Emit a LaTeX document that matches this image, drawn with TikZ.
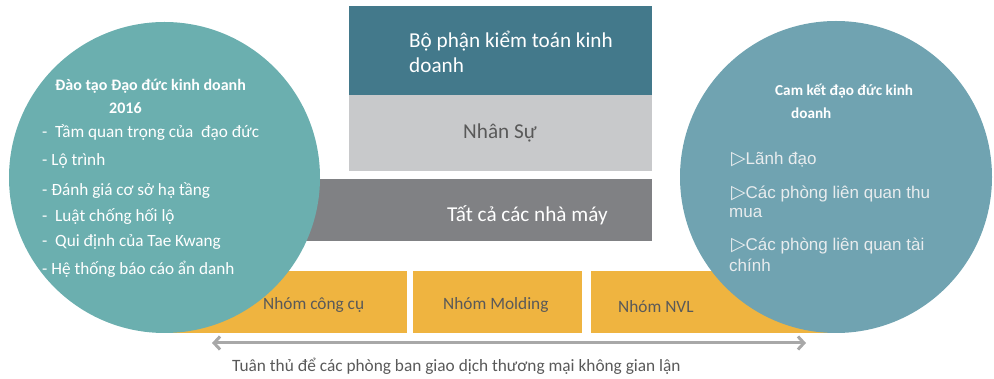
\documentclass[tikz,border=0pt]{standalone}
\usepackage{fontspec}
\setmainfont{Carlito}
\newfontfamily\arialf{Liberation Sans}
\newfontfamily\dejavu{DejaVu Sans}
\usetikzlibrary{arrows.meta}
\definecolor{topteal}{RGB}{67,121,139}
\definecolor{lightgr}{RGB}{200,201,203}
\definecolor{darkgr}{RGB}{128,129,132}
\definecolor{orng}{RGB}{239,180,64}
\definecolor{lcirc}{RGB}{107,175,175}
\definecolor{rcirc}{RGB}{112,163,177}
\definecolor{txtgr}{RGB}{89,89,89}
\definecolor{arrgr}{RGB}{168,168,168}
\definecolor{rtxt}{RGB}{232,236,238}
\newcommand{\tri}{\makebox[14.5pt][l]{\dejavu\fontsize{19}{20}\selectfont ▷}}
\tikzset{
  box/.style={rectangle, inner sep=0pt, draw=none},
  circ/.style={circle, inner sep=0pt, draw=none},
  lbl/.style={inner sep=0pt, anchor=base west},
  big/.style={font=\fontsize{21.2}{25}\selectfont},
  mid/.style={font=\fontsize{17.3}{20}\selectfont},
  ltitle/.style={font=\fontsize{16}{19}\selectfont\bfseries, text=white},
  rtitle/.style={font=\fontsize{15.2}{18}\selectfont\bfseries, text=white},
  litem/.style={font=\fontsize{17.2}{20}\selectfont, text=white},
  ritem/.style={font=\fontsize{17}{20}\selectfont\arialf, text=rtxt},
  arrstyle/.style={draw=arrgr, line width=3pt, {Straight Barb[length=6pt,width=13pt]}-{Straight Barb[length=6pt,width=13pt]}}
}
\begin{document}
\begin{tikzpicture}[x=1pt,y=-1pt]
\useasboundingbox (0,0) rectangle (994,379);
% boxes
\node[box, fill=topteal, minimum width=303pt, minimum height=89pt] (audit) at (500.5,50.5) {};
\node[box, fill=lightgr, minimum width=303pt, minimum height=76pt] (hr) at (500.5,133) {};
\node[box, fill=darkgr, minimum width=362pt, minimum height=62pt] (plants) at (471,210) {};
\node[box, fill=orng, minimum width=237pt, minimum height=62pt] (tools) at (288.5,302) {};
\node[box, fill=orng, minimum width=169pt, minimum height=62pt] (molding) at (497.5,302) {};
\node[box, fill=orng, minimum width=244pt, minimum height=62pt] (nvl) at (713,302) {};
% box texts
\node[lbl, big, text=white] (t1a) at (409,48) {Bộ phận kiểm toán kinh};
\node[lbl, big, text=white] (t1b) at (409,73) {doanh};
\node[lbl, big, text=txtgr] (t2) at (463,139) {Nhân Sự};
\node[lbl, big, text=white] (t3) at (447,222) {Tất cả các nhà máy};
\node[lbl, mid, text=txtgr] (o1) at (263,310) {Nhóm công cụ};
\node[lbl, mid, text=txtgr] (o2) at (443,310) {Nhóm Molding};
\node[lbl, mid, text=txtgr] (o3) at (618,313) {Nhóm NVL};
% circles
\node[circ, fill=lcirc, minimum size=311pt] (lc) at (164.5,177.5) {};
\node[circ, fill=rcirc, minimum size=312pt] (rc) at (836,177) {};
% left circle text
\node[lbl, ltitle] (lt1) at (55,91) {Đào tạo Đạo đức kinh doanh};
\node[lbl, ltitle] (lt2) at (109,114) {2016};
\node[lbl, litem] (l1) at (42,138) {-\ \ Tầm quan trọng của\ \ đạo đức};
\node[lbl, litem] (l2) at (42,166) {- Lộ trình};
\node[lbl, litem] (l3) at (42,196) {- Đánh giá cơ sở hạ tầng};
\node[lbl, litem] (l4) at (42,222) {-\ \ Luật chống hối lộ};
\node[lbl, litem] (l5) at (42,247) {-\ \ Qui định của Tae Kwang};
\node[lbl, litem] (l6) at (42,275) {- Hệ thống báo cáo ẩn danh};
% right circle text
\node[lbl, rtitle] (rt1) at (775,96) {Cam kết đạo đức kinh};
\node[lbl, rtitle] (rt2) at (791,119) {doanh};
\node[lbl, ritem] (r1) at (731,165) {\tri Lãnh đạo};
\node[lbl, ritem] (r2a) at (731,199) {\tri Các phòng liên quan thu};
\node[lbl, ritem] (r2b) at (729,218) {mua};
\node[lbl, ritem] (r3a) at (731,251) {\tri Các phòng liên quan tài};
\node[lbl, ritem] (r3b) at (729,272) {chính};
% arrow
\coordinate (al) at (212,343);
\coordinate (ar) at (806,343);
\draw[arrstyle] (al) -- (ar);
\node[lbl, mid, text=txtgr] (bot) at (232,372) {Tuân thủ để các phòng ban giao dịch thương mại không gian lận};
\end{tikzpicture}
\end{document}
